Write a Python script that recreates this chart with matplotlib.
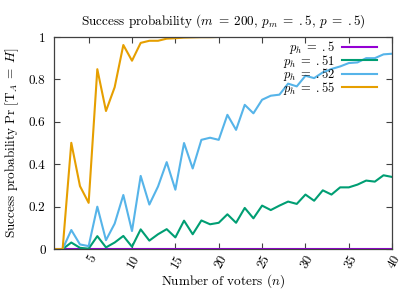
import matplotlib
matplotlib.use("Agg")
import matplotlib.pyplot as plt

plt.rcParams['font.family'] = ['cmr10']
plt.rcParams['mathtext.fontset'] = 'cm'
plt.rcParams['axes.formatter.use_mathtext'] = True

# number of voters
n = list(range(1, 41))

p50 = [0.0] * 40
p51 = [0.0, 0.0, 0.031, 0.006, 0.002, 0.061, 0.008, 0.031, 0.062, 0.011,
       0.093, 0.040, 0.070, 0.094, 0.055, 0.134, 0.070, 0.135, 0.117, 0.124,
       0.164, 0.124, 0.194, 0.145, 0.205, 0.184, 0.205, 0.224, 0.213, 0.257,
       0.228, 0.277, 0.257, 0.291, 0.291, 0.304, 0.323, 0.318, 0.348, 0.340]
p52 = [0.0, 0.0, 0.090, 0.022, 0.014, 0.200, 0.042, 0.120, 0.255, 0.085,
       0.345, 0.210, 0.295, 0.410, 0.280, 0.500, 0.380, 0.515, 0.525, 0.515,
       0.633, 0.562, 0.680, 0.640, 0.704, 0.723, 0.728, 0.780, 0.767, 0.817,
       0.806, 0.833, 0.849, 0.861, 0.877, 0.880, 0.900, 0.900, 0.918, 0.921]
p55 = [0.0, 0.0, 0.501, 0.297, 0.218, 0.848, 0.651, 0.763, 0.962, 0.888,
       0.972, 0.982, 0.982, 0.992, 0.994, 0.997, 0.998, 0.999, 0.999, 1.0,
       1.0, 1.0, 1.0, 1.0, 1.0, 1.0, 1.0, 1.0, 1.0, 1.0,
       1.0, 1.0, 1.0, 1.0, 1.0, 1.0, 1.0, 1.0, 1.0, 1.0]

series = [
    (p50, r'$p_h\;=\;.5$', '#9400d3'),
    (p51, r'$p_h\;=\;.51$', '#009e73'),
    (p52, r'$p_h\;=\;.52$', '#56b4e9'),
    (p55, r'$p_h\;=\;.55$', '#e69f00'),
]

xticks = [5, 10, 15, 20, 25, 30, 35, 40]
yticks = [0, 0.2, 0.4, 0.6, 0.8, 1]
ytick_labels = ['0', '0.2', '0.4', '0.6', '0.8', '1']

fig = plt.figure(figsize=(4.15, 2.91), dpi=100)
ax = fig.add_axes([0.130, 0.144, 0.815, 0.729])

for vals, label, color in series:
    ax.plot(n, vals, color=color, linewidth=1.5, label=label)

ax.set_xlim(1, 40)
ax.set_ylim(0, 1)
ax.set_xticks(xticks)
ax.set_xticklabels([str(t) for t in xticks], rotation=60, ha='right',
                   va='top', rotation_mode='anchor')
ax.set_yticks(yticks)
ax.set_yticklabels(ytick_labels)
ax.tick_params(direction='in', length=4, width=0.8, color='#404040',
               top=True, right=True, labelsize=9.5)
ax.tick_params(axis='x', pad=3)
ax.tick_params(axis='y', pad=6)

for sp in ax.spines.values():
    sp.set_color('#404040')
    sp.set_linewidth(0.9)

ax.set_title(r'Success probability ($m\;=\;200$, $p_m\;=\;.5$, $p\;=\;.5$)',
             fontsize=9.5, pad=9)
ax.set_xlabel(r'Number of voters ($n$)', fontsize=9.5, labelpad=1)
ax.set_ylabel(r'Success probability $\Pr\,[\mathrm{T}_A\;=\;H]$',
              fontsize=9.5, labelpad=6)

leg = ax.legend(loc='upper right', bbox_to_anchor=(0.956, 0.99),
                frameon=False, markerfirst=False,
                fontsize=9, handlelength=2.8, handletextpad=0.6,
                labelspacing=-0.28, borderaxespad=0.0, borderpad=0.0)

fig.savefig('out.png', dpi=100)
